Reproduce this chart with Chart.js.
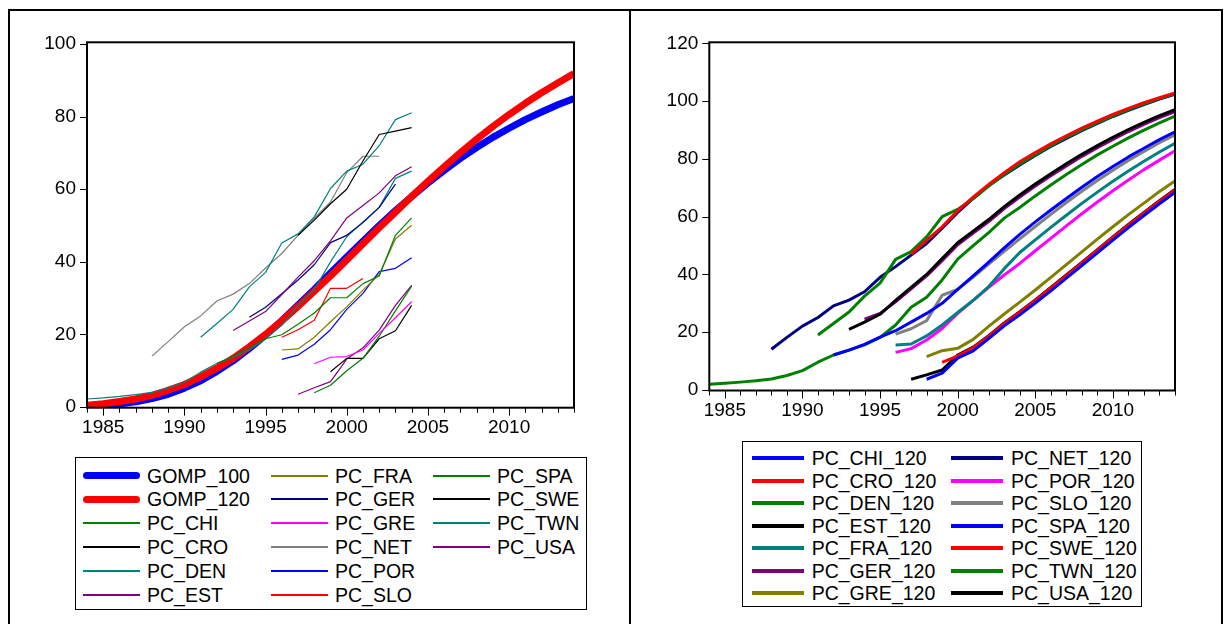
<!DOCTYPE html>
<html>
<head>
<meta charset="utf-8">
<script src="https://cdn.jsdelivr.net/npm/chart.js@4.4.0/dist/chart.umd.min.js"></script>
<style>
  body { margin: 0; background: #fff; font-family: "Liberation Sans", Arial, sans-serif; }
  #page { position: relative; width: 1230px; height: 624px; overflow: hidden; background: #fff; }
  .rule { position: absolute; background: #000; }
  canvas { position: absolute; top: 0; }
  .legend { position: absolute; border: 1px solid #000; box-sizing: border-box; background: #fff; }
  .item { position: absolute; height: 22px; line-height: 22px; font-size: 19.5px; white-space: nowrap; color: #000; }
  .swatch { position: absolute; }
</style>
</head>
<body>
<div id="page">
  <div class="rule" style="left:8px; top:9px; width:1215px; height:2px"></div>
  <div class="rule" style="left:8px; top:9px; width:2px; height:615px"></div>
  <div class="rule" style="left:1221px; top:9px; width:2px; height:615px"></div>
  <div class="rule" style="left:629px; top:9px; width:2px; height:615px"></div>
  <canvas id="left" width="630" height="450" style="left:0"></canvas>
  <canvas id="right" width="600" height="450" style="left:630px"></canvas>
  <div id="legendLeft" class="legend" style="left:75px; top:457px; width:512px; height:153px"></div>
  <div id="legendRight" class="legend" style="left:742px; top:441px; width:400px; height:166px"></div>
</div>
<script>
const firstYear = 1984;
const lastYear = 2014;
const xTickLabels = [1985, 1990, 1995, 2000, 2005, 2010];
const yTicksLeft = [0, 20, 40, 60, 80, 100];
const yTicksRight = [0, 20, 40, 60, 80, 100, 120];

// Gompertz curves with saturation 100 and 120, 1984-2014
const gomp100 = [0.2, 0.4, 0.8, 1.4, 2.3, 3.5, 5.2, 7.2, 9.8, 12.7, 16.1, 19.8, 23.8, 28.1, 32.4, 36.9,
  41.3, 45.7, 50.0, 54.1, 58.0, 61.7, 65.2, 68.5, 71.5, 74.3, 76.8, 79.2, 81.3, 83.3, 85.0];
const gomp120 = [0.5, 0.9, 1.5, 2.2, 3.2, 4.6, 6.2, 8.3, 10.7, 13.4, 16.6, 20.0, 23.7, 27.7, 31.9, 36.1,
  40.5, 45.0, 49.4, 53.7, 58.0, 62.2, 66.2, 70.1, 73.8, 77.3, 80.6, 83.7, 86.6, 89.3, 91.9];

// observed penetration by country (first year in the series table)
const pcChi = [12.0, 14.0, 16.3, 18.8, 19.9, 22.8, 25.9, 30.1, 30.1, 34.0, 36.1, 47.3, 52.1];
const pcCro = [47.3, 51.5, 56.0, 60.0, 67.8, 75.1, 76.0, 77.0];
const pcDen = [19.2, 23.0, 26.9, 33.1, 37.1, 45.2, 47.7, 52.4, 60.2, 65.0, 66.9, 72.0, 79.2, 81.1];
const pcEst = [21.1, 23.7, 26.3, 31.0, 35.8, 40.3, 45.8, 52.1, 55.5, 59.0, 63.7, 66.2];
const pcFra = [15.7, 16.0, 19.2, 23.5, 27.6, 32.2, 36.5, 46.3, 50.1];
const pcGer = [24.7, 27.5, 31.2, 35.0, 39.2, 45.3, 47.3, 50.8, 55.0, 61.4];
const pcGre = [11.9, 13.7, 13.9, 15.7, 20.3, 24.6, 29.0];
const pcNet = [14.0, 18.0, 22.1, 25.1, 29.2, 31.1, 34.0, 38.3, 42.3, 47.3, 52.0, 56.5, 64.6, 69.1, 69.1];
const pcPor = [13.1, 14.3, 17.3, 21.3, 26.9, 31.3, 37.3, 38.2, 41.1];
const pcSlo = [19.2, 21.3, 23.9, 32.7, 32.7, 35.4];
const pcSpa = [3.9, 6.0, 10.0, 13.4, 19.5, 26.5, 33.3];
const pcSwe = [9.7, 13.4, 13.4, 18.8, 21.0, 28.0];
const pcTwn = [2.2, 2.5, 2.9, 3.4, 4.0, 5.2, 6.8, 9.6, 12.0, 13.8, 15.7, 18.8, 22.5, 28.0, 32.3, 40.0,
  46.9, 51.0, 55.0, 63.0, 65.0];
const pcUsa = [3.5, 5.3, 7.0, 13.2, 16.3, 21.2, 28.0, 33.5];

// observed values continued with the Gompertz (120) forecast up to 2014
const pcChi120 = [12.1, 13.8, 15.8, 18.3, 20.5, 23.5, 26.5, 30.0, 34.8, 39.5, 44.3, 49.2, 53.9, 58.2, 62.3,
  66.3, 70.2, 73.9, 77.4, 80.7, 83.7, 86.7, 89.4];
const pcCro120 = [47.0, 51.8, 56.5, 62.0, 66.8, 71.2, 75.2, 79.0, 82.2, 85.2, 88.0, 90.7, 93.1, 95.4, 97.5,
  99.5, 101.2, 102.9];
const pcDen120 = [19.0, 23.0, 27.0, 32.5, 37.0, 45.2, 47.9, 53.0, 60.0, 62.5, 66.3, 70.6, 74.6, 78.3, 81.5,
  84.6, 87.5, 90.1, 92.6, 94.9, 97.1, 99.1, 100.9, 102.6];
const pcEst120 = [21.0, 23.5, 26.2, 31.0, 35.5, 40.0, 45.5, 51.0, 55.0, 59.0, 63.5, 67.5, 71.3, 74.9, 78.3,
  81.6, 84.6, 87.5, 90.2, 92.7, 95.0, 97.1];
const pcFra120 = [15.6, 15.9, 18.7, 22.5, 26.8, 31.0, 35.8, 42.0, 47.6, 52.0, 56.3, 60.5, 64.6, 68.5, 72.3,
  75.8, 79.2, 82.4, 85.4];
const pcGer120 = [24.5, 26.5, 30.5, 35.0, 39.5, 44.8, 50.3, 54.3, 58.3, 62.8, 66.8, 70.6, 74.2, 77.6, 80.9,
  83.9, 86.8, 89.5, 92.0, 94.3, 96.4];
const pcGre120 = [11.5, 13.6, 14.4, 17.5, 22.0, 26.3, 30.4, 34.6, 39.0, 43.4, 47.8, 52.2, 56.5, 60.7, 64.7,
  68.7, 72.4];
const pcNet120 = [14.1, 18.2, 22.1, 25.1, 29.1, 31.1, 34.0, 39.0, 42.7, 46.7, 50.7, 56.0, 61.5, 66.3, 70.8,
  74.4, 77.9, 81.2, 84.3, 87.1, 89.8, 92.3, 94.7, 96.8, 98.8, 100.7, 102.4];
const pcPor120 = [13.0, 14.3, 17.3, 21.3, 26.5, 31.0, 35.5, 39.8, 43.8, 48.2, 52.5, 56.8, 61.0, 65.1, 69.0,
  72.7, 76.3, 79.6, 82.8];
const pcSlo120 = [19.3, 21.2, 24.0, 32.8, 34.8, 39.1, 43.6, 48.0, 52.3, 56.6, 60.8, 64.9, 68.8, 72.5, 76.1,
  79.5, 82.6, 85.6, 88.4];
const pcSpa120 = [3.7, 5.8, 11.0, 13.5, 17.8, 22.2, 26.0, 30.1, 34.3, 38.7, 43.1, 47.5, 51.9, 56.2, 60.4,
  64.5, 68.4];
const pcSwe120 = [9.5, 11.8, 14.6, 18.6, 23.0, 26.9, 31.0, 35.3, 39.6, 44.0, 48.4, 52.8, 57.1, 61.3, 65.3, 69.2];
const pcTwn120 = [2.0, 2.3, 2.7, 3.2, 3.8, 5.0, 6.7, 9.6, 12.1, 13.8, 15.6, 18.2, 22.5, 28.6, 32.1, 38.1,
  45.3, 50.0, 54.5, 59.5, 63.2, 67.2, 71.0, 74.6, 78.1, 81.4, 84.4, 87.3, 90.0, 92.5, 94.8];
const pcUsa120 = [3.7, 5.2, 6.9, 12.1, 14.8, 18.8, 23.2, 27.1, 31.2, 35.5, 39.8, 44.2, 48.6, 53.0, 57.3,
  61.5, 65.5, 69.4];

const BLUE = '#0000ff', RED = '#ff0000', GREEN = '#008000', BLACK = '#000000', TEAL = '#008080',
  PURPLE = '#800080', OLIVE = '#808000', NAVY = '#000080', MAGENTA = '#ff00ff', GRAY = '#808080';

// [label, first year, values, colour, line width, draw order]
const leftSeries = [
  ['GOMP_100', 1984, gomp100, BLUE, 7, 2],
  ['GOMP_120', 1984, gomp120, RED, 7, 1],
  ['PC_CHI', 1992, pcChi, GREEN, 1.2, 0],
  ['PC_CRO', 1997, pcCro, BLACK, 1.2, 0],
  ['PC_DEN', 1991, pcDen, TEAL, 1.2, 0],
  ['PC_EST', 1993, pcEst, PURPLE, 1.2, 0],
  ['PC_FRA', 1996, pcFra, OLIVE, 1.2, 0],
  ['PC_GER', 1994, pcGer, NAVY, 1.2, 0],
  ['PC_GRE', 1998, pcGre, MAGENTA, 1.2, 0],
  ['PC_NET', 1988, pcNet, GRAY, 1.2, 0],
  ['PC_POR', 1996, pcPor, BLUE, 1.2, 0],
  ['PC_SLO', 1996, pcSlo, RED, 1.2, 0],
  ['PC_SPA', 1998, pcSpa, GREEN, 1.2, 0],
  ['PC_SWE', 1999, pcSwe, BLACK, 1.2, 0],
  ['PC_TWN', 1984, pcTwn, TEAL, 1.2, 0],
  ['PC_USA', 1997, pcUsa, PURPLE, 1.2, 0],
];

const rightSeries = [
  ['PC_CHI_120', 1992, pcChi120, BLUE, 3, 0],
  ['PC_CRO_120', 1997, pcCro120, RED, 3, 0],
  ['PC_DEN_120', 1991, pcDen120, GREEN, 3, 0],
  ['PC_EST_120', 1993, pcEst120, BLACK, 3, 0],
  ['PC_FRA_120', 1996, pcFra120, TEAL, 3, 0],
  ['PC_GER_120', 1994, pcGer120, PURPLE, 3, 0],
  ['PC_GRE_120', 1998, pcGre120, OLIVE, 3, 0],
  ['PC_NET_120', 1988, pcNet120, NAVY, 3, 0],
  ['PC_POR_120', 1996, pcPor120, MAGENTA, 3, 0],
  ['PC_SLO_120', 1996, pcSlo120, GRAY, 3, 0],
  ['PC_SPA_120', 1998, pcSpa120, BLUE, 3, 0],
  ['PC_SWE_120', 1999, pcSwe120, RED, 3, 0],
  ['PC_TWN_120', 1984, pcTwn120, GREEN, 3, 0],
  ['PC_USA_120', 1997, pcUsa120, BLACK, 3, 0],
];

const tickFont = { family: '"Liberation Sans", Arial, sans-serif', size: 19 };

// box round the plot area plus the outside tick marks (long every 5 years)
const framePlugin = {
  id: 'frame',
  afterDraw(chart) {
    const { ctx, chartArea: a, scales: { x, y } } = chart;
    ctx.save();
    ctx.strokeStyle = '#000';
    ctx.lineWidth = 1;
    ctx.beginPath();
    for (let yr = firstYear; yr <= lastYear; yr++) {
      const px = Math.round(x.getPixelForValue(yr)) + 0.5;
      ctx.moveTo(px, a.bottom);
      ctx.lineTo(px, a.bottom + (yr % 5 === 0 ? 8 : 5));
    }
    y.ticks.forEach((t) => {
      const py = Math.round(y.getPixelForValue(t.value)) + 0.5;
      ctx.moveTo(a.left - 7, py);
      ctx.lineTo(a.left, py);
    });
    ctx.stroke();
    ctx.lineWidth = 2;
    ctx.strokeRect(a.left, a.top, a.right - a.left, a.bottom - a.top);
    ctx.restore();
  },
};

function makeChart(id, series, yTicks, yMin, yMax, g) {
  return new Chart(document.getElementById(id), {
    type: 'line',
    data: {
      datasets: series.map(([label, start, values, color, width, order]) => ({
        label,
        data: values.map((v, i) => ({ x: start + i, y: v })),
        borderColor: color,
        borderWidth: width,
        order,
        clip: 0,
      })),
    },
    options: {
      responsive: false,
      animation: false,
      devicePixelRatio: 1,
      layout: { padding: { top: g.top, right: g.right, left: 0, bottom: 0 } },
      plugins: { legend: { display: false }, tooltip: { enabled: false } },
      elements: {
        point: { radius: 0 },
        line: { tension: 0, borderJoinStyle: 'round', borderCapStyle: 'butt' },
      },
      scales: {
        x: {
          type: 'linear',
          min: firstYear,
          max: lastYear,
          grid: { display: false, drawTicks: false },
          border: { display: false },
          afterBuildTicks: (s) => { s.ticks = xTickLabels.map((v) => ({ value: v })); },
          afterFit: (s) => { s.height = g.xh; },
          ticks: { autoSkip: false, maxRotation: 0, padding: 9, color: '#000', font: tickFont,
            callback: (v) => String(v) },
        },
        y: {
          min: yMin,
          max: yMax,
          grid: { display: false, drawTicks: false },
          border: { display: false },
          afterBuildTicks: (s) => { s.ticks = yTicks.map((v) => ({ value: v })); },
          afterFit: (s) => { s.width = g.yw; },
          ticks: { padding: 11, color: '#000', font: tickFont, callback: (v) => String(v) },
        },
      },
    },
    plugins: [framePlugin],
  });
}

makeChart('left', leftSeries, yTicksLeft, -0.2, 100.5, { top: 42.3, right: 56, yw: 87, xh: 42.3 });
makeChart('right', rightSeries, yTicksRight, -0.2, 120.4, { top: 42.3, right: 55, yw: 79.3, xh: 59.5 });

// legends laid out column by column
function buildLegend(id, series, rows, l) {
  const box = document.getElementById(id);
  series.forEach(([label, , , color, width], i) => {
    const col = Math.floor(i / rows);
    const row = i % rows;
    const item = document.createElement('div');
    item.className = 'item';
    item.style.left = l.cols[col] + 'px';
    item.style.top = (l.top + row * l.step - 11) + 'px';
    const sw = document.createElement('div');
    sw.className = 'swatch';
    const h = width >= 5 ? 7 : l.swatch;
    sw.style.cssText = `left:0; width:${l.len}px; height:${h}px; top:${11 - h / 2}px; background:${color};` +
      (width >= 5 ? 'border-radius:4px;' : '');
    const txt = document.createElement('span');
    txt.textContent = label;
    txt.style.cssText = `position:absolute; left:${l.text}px; top:0;`;
    item.appendChild(sw);
    item.appendChild(txt);
    box.appendChild(item);
  });
}

buildLegend('legendLeft', leftSeries, 6, { cols: [7, 195, 357], top: 17.5, step: 23.8, len: 57, text: 64, swatch: 2 });
buildLegend('legendRight', rightSeries, 7, { cols: [8.7, 208], top: 16.3, step: 22.5, len: 52, text: 60, swatch: 4 });
</script>
</body>
</html>
